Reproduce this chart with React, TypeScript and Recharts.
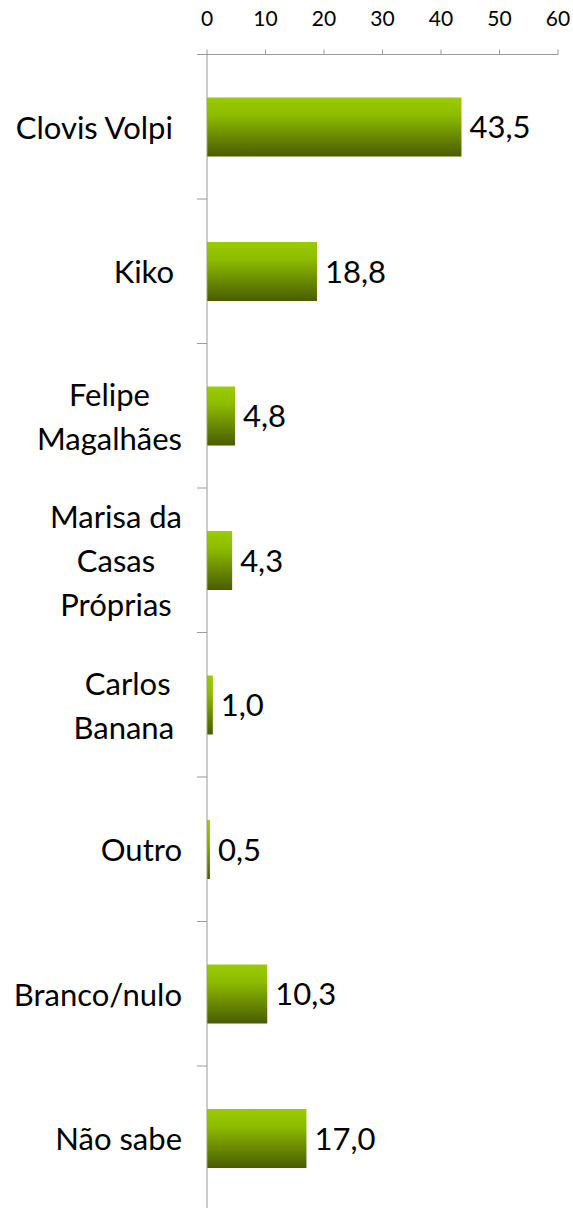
import { BarChart, Bar, XAxis, YAxis, LabelList } from 'recharts';

// Candidates and their share (%)
const candidates = [
  'Clovis Volpi ',
  'Kiko ',
  'Felipe Magalhães',
  'Marisa da Casas Próprias',
  'Carlos Banana ',
  'Outro',
  'Branco/nulo',
  'Não sabe',
];
const shares = [43.5, 18.8, 4.8, 4.3, 1.0, 0.5, 10.3, 17.0];
const xTicks = [0, 10, 20, 30, 40, 50, 60];

const data = candidates.map((name, i) => ({ name, value: shares[i] }));

const FONT = 'Lato, "Liberation Sans", sans-serif';
const LABEL_SIZE = 31;
const LINE_H = 44;
const WRAP_W = 180;
const AXIS_X = 207;
const LABEL_RIGHT = 182;
const PLOT_TOP = 54.5;
const PLOT_H = 1156;
const BAND = PLOT_H / candidates.length;
const AXIS_COLOR = '#9a9a9a';

let ctx: CanvasRenderingContext2D | null = null;
function measure(s: string): number {
  if (!ctx) ctx = document.createElement('canvas').getContext('2d');
  if (!ctx) return s.length * LABEL_SIZE * 0.5;
  ctx.font = `${LABEL_SIZE}px Lato`;
  return ctx.measureText(s).width;
}

// simple word wrap like Excel does for category labels
function wrap(label: string): string[] {
  const words = label.split(' ');
  const lines: string[] = [];
  let cur = '';
  words.forEach((w, i) => {
    const piece = i < words.length - 1 ? w + ' ' : w;
    if (cur && measure((cur + piece).trimEnd()) > WRAP_W) {
      lines.push(cur.trimEnd());
      cur = piece;
    } else {
      cur += piece;
    }
  });
  if (cur) lines.push(cur);
  return lines;
}

function CategoryTick(props: any) {
  const { y, payload, index } = props;
  const lines = wrap(payload.value);
  const widths = lines.map(measure);
  const maxW = Math.max(...widths);
  const center = LABEL_RIGHT - maxW / 2;
  const first = y - ((lines.length - 1) * LINE_H) / 2;
  return (
    <g>
      {index === 0 && (
        <line x1={AXIS_X - 10} x2={AXIS_X} y1={y - BAND / 2} y2={y - BAND / 2} stroke={AXIS_COLOR} />
      )}
      <line x1={AXIS_X - 10} x2={AXIS_X} y1={y + BAND / 2} y2={y + BAND / 2} stroke={AXIS_COLOR} />
      {lines.map((ln, i) => (
        <text
          key={i}
          x={center - widths[i] / 2}
          y={first + i * LINE_H}
          dominantBaseline="central"
          textAnchor="start"
          fontFamily={FONT}
          fontSize={LABEL_SIZE}
          fill="#000"
        >
          {ln}
        </text>
      ))}
    </g>
  );
}

export default function App() {
  return (
    <div style={{ position: 'absolute', left: 0, top: 0, width: 573, height: 1208, overflow: 'hidden', background: '#fff' }}>
      <BarChart
        width={573}
        height={1212}
        data={data}
        layout="vertical"
        margin={{ top: PLOT_TOP - 30, right: 15, left: 0, bottom: 1212 - PLOT_TOP - PLOT_H }}
      >
        <defs>
          <linearGradient id="barFill" x1="0" y1="0" x2="0" y2="1">
            <stop offset="0%" stopColor="#9bcc00" />
            <stop offset="30%" stopColor="#8dbb00" />
            <stop offset="65%" stopColor="#6a8c00" />
            <stop offset="100%" stopColor="#4a5c00" />
          </linearGradient>
        </defs>
        <XAxis
          type="number"
          orientation="top"
          domain={[0, 60]}
          ticks={xTicks}
          height={30}
          tickSize={5}
          tickMargin={24}
          stroke={AXIS_COLOR}
          tick={{ fontSize: 21, fill: '#000', fontFamily: FONT }}
        />
        <YAxis
          type="category"
          dataKey="name"
          width={AXIS_X}
          tickLine={false}
          stroke={AXIS_COLOR}
          interval={0}
          tick={<CategoryTick />}
        />
        <Bar dataKey="value" fill="url(#barFill)" barSize={59} isAnimationActive={false}>
          <LabelList
            dataKey="value"
            position="right"
            offset={8}
            formatter={(v: any) => Number(v).toFixed(1).replace('.', ',')}
            style={{ fontSize: LABEL_SIZE, fontFamily: FONT, fill: '#000' }}
          />
        </Bar>
      </BarChart>
    </div>
  );
}
